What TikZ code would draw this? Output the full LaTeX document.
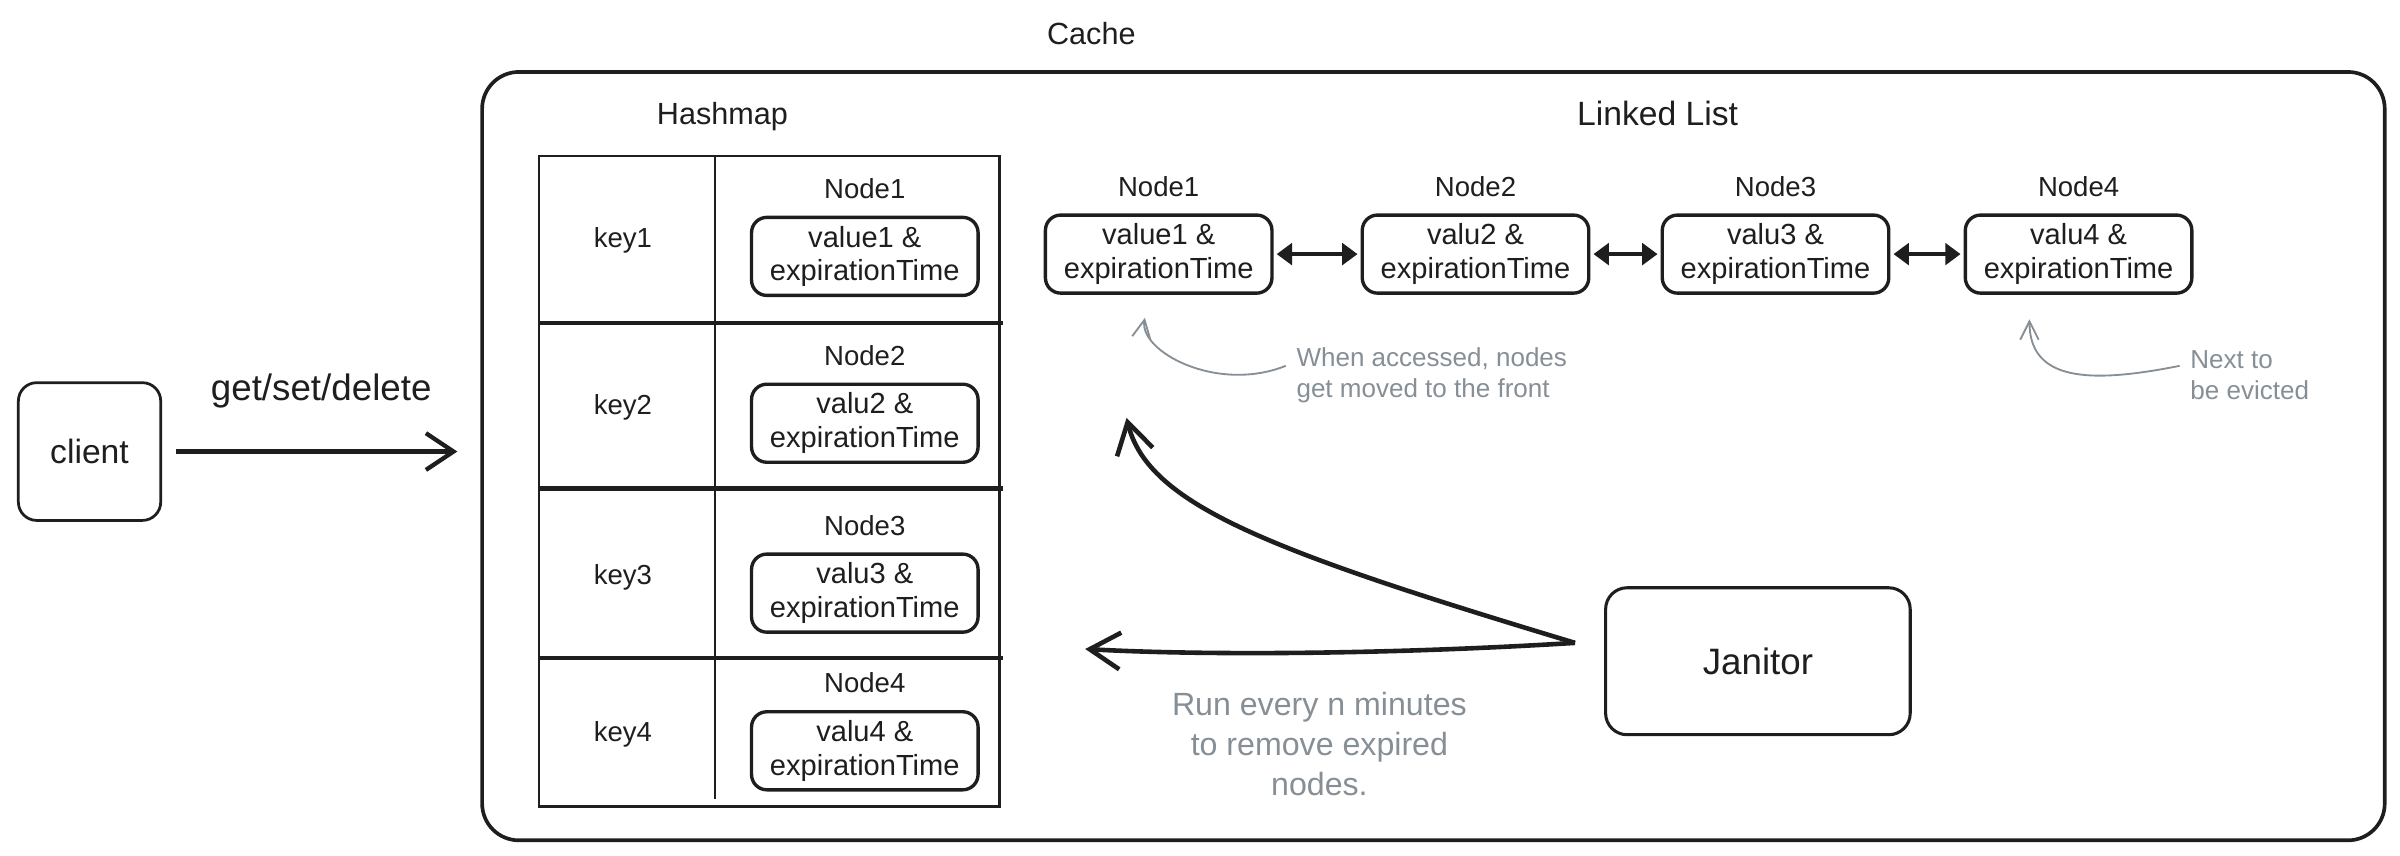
\documentclass[tikz,border=0pt]{standalone}
\usepackage{fontspec}
\setmainfont{Liberation Sans}
\usepackage{xcolor}
\usetikzlibrary{arrows.meta,positioning,calc}
\definecolor{inkblack}{HTML}{1E1E1E}
\definecolor{notegray}{HTML}{868E96}

\begin{document}
\begin{tikzpicture}[x=0.5pt, y=-0.5pt, color=inkblack,
    valbox/.style={draw, line width=1.1pt, rounded corners=5pt, minimum width=74pt, minimum height=25.5pt, align=center, inner sep=1pt, font=\fontsize{9.5}{11}\selectfont},
    nodelabel/.style={font=\small},
    notetext/.style={font=\fontsize{8.5}{10}\selectfont, text=notegray, align=left},
    notearrow/.style={draw=notegray, line width=0.6pt, -{Straight Barb[length=6pt, width=6pt]}},
    linkarrow/.style={line width=1.3pt, {Triangle[length=5pt, width=7pt]}-{Triangle[length=5pt, width=7pt]}, shorten <=1pt, shorten >=1pt},
    janarrow/.style={line width=1.5pt, -{Straight Barb[length=10pt, width=12pt]}}]
    \useasboundingbox (0,0) rectangle (1568,559);

    % Outer cache container
    \node[draw, line width=1.2pt, rounded corners=12pt, minimum width=621.5pt, minimum height=251pt] (cache) at (936.5,298) {};
    \node[font=\normalsize] (cachelabel) at (713,22) {Cache};
    \node[font=\normalsize] (hashlabel) at (472,76) {Hashmap};
    \node[font=\fontsize{11}{13}\selectfont] (listlabel) at (1083,74) {Linked List};

    % Client and request arrow
    \node[draw, line width=0.9pt, rounded corners=6pt, minimum width=46.5pt, minimum height=45pt, font=\fontsize{11}{13}\selectfont] (client) at (58.5,295) {client};
    \draw[line width=1.4pt, -{Straight Barb[length=9pt, width=12pt]}, shorten <=4.5pt, shorten >=7.5pt] (client.east) -- (client.east -| cache.west)
        node[midway, above=10pt, font=\large] (reqlabel) {get/set/delete};

    % Hashmap table
    \draw[line width=0.8pt] (352,102) rectangle (653,527);
    \draw[line width=0.8pt] (467,102) -- (467,522);
    \foreach \y in {211,319,430}
        \draw[line width=1.5pt] (352,\y) -- (655,\y);

    % Hashmap rows: key -> node
    \foreach \i/\y/\val in {1/157/value1, 2/266/valu2, 3/377/valu3, 4/480/valu4} {
        \node[font=\small] (hk\i) at (407,\y) {key\i};
        \node[valbox] (hv\i) at (565,\y+10.5) {\val\ \&\\expirationTime};
        \node[nodelabel, above=2pt of hv\i] (hn\i) {Node\i};
    }

    % Linked list nodes
    \foreach \i/\x/\val in {1/757/value1, 2/964/valu2, 3/1160/valu3, 4/1358/valu4} {
        \node[valbox] (ll\i) at (\x,166) {\val\ \&\\expirationTime};
        \node[nodelabel, above=2pt of ll\i] (ln\i) {Node\i};
    }
    \foreach \a/\b in {1/2, 2/3, 3/4}
        \draw[linkarrow] (ll\a.east) -- (ll\b.west);

    % Annotations on the list
    \node[notetext, anchor=west] (accessnote) at (840,245) {When accessed, nodes\\get moved to the front};
    \draw[notearrow] ([yshift=3pt]accessnote.west) .. controls +(-45,18) and +(-4,22) .. ([xshift=-4.5pt, yshift=-7.5pt]ll1.south);
    \node[notetext, anchor=west] (evictnote) at (1424,245) {Next to\\be evicted};
    \draw[notearrow] ([yshift=3pt]evictnote.west) .. controls +(-60,12) and +(0,40) .. ([xshift=21.5pt, yshift=-8pt]ll4.south west);

    % Janitor and its sweeps
    \node[draw, line width=1pt, rounded corners=7pt, minimum width=99.5pt, minimum height=48pt, font=\large] (janitor) at (1148.5,432) {Janitor};
    \coordinate (jansrc) at ([xshift=-9.5pt, yshift=6pt]janitor.west);
    \coordinate (fronttip) at (736,273);
    \coordinate (sweeptip) at (709,424);
    \draw[janarrow] (jansrc) .. controls (830,360) and (750,330) .. (fronttip);
    \draw[janarrow] (jansrc) .. controls (900,428) and (780,428) .. (sweeptip);
    \node[font=\fontsize{10.5}{13}\selectfont, text=notegray, align=center] (sweepnote) at (862,486) {Run every n minutes\\to remove expired\\nodes.};
\end{tikzpicture}
\end{document}
